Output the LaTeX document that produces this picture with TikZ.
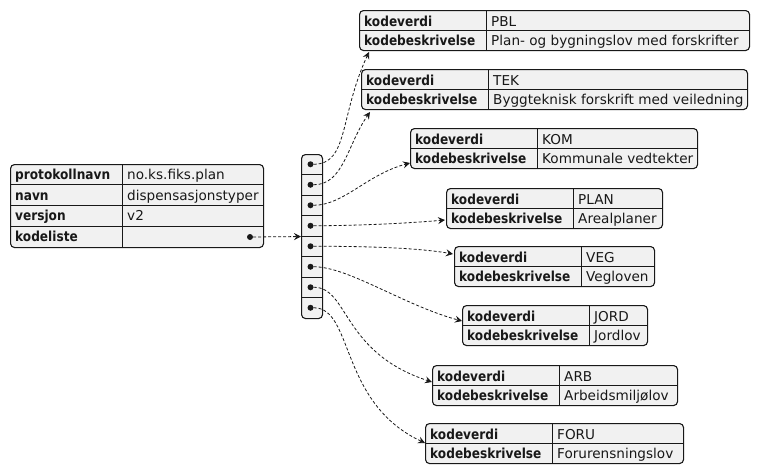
\documentclass[tikz,border=0pt]{standalone}
\usepackage{fontspec}
\setmainfont{DejaVu Sans}[BoldFeatures={FakeStretch=0.88}]
\usetikzlibrary{arrows.meta,calc}
\definecolor{tabfyll}{HTML}{F1F1F1}
\definecolor{strek}{HTML}{181818}
\tikzset{
  tabell/.style={draw=strek, fill=tabfyll, rounded corners=4pt, line width=1.1pt, inner sep=0pt, anchor=north west},
  skille/.style={draw=strek, line width=0.8pt},
  noekkel/.style={anchor=base west, inner sep=0pt, text=strek, font=\fontsize{13.8}{16}\selectfont\bfseries},
  verdi/.style={anchor=base west, inner sep=0pt, text=strek, font=\fontsize{13.6}{16}\selectfont},
  prikk/.style={circle, fill=strek, inner sep=0pt, minimum size=6pt},
  pil/.style={draw=strek, line width=0.8pt, dash pattern=on 3pt off 2pt, -{Stealth[length=7pt,width=7pt,inset=2.5pt]}}
}
\begin{document}
\begin{tikzpicture}[x=1pt,y=1pt]
\useasboundingbox (0,0) rectangle (760,-474);

% hovedtabellen
\node[tabell, minimum width=253, minimum height=83] (hoved) at (10,-164) {};
\foreach \i in {1,2,3}
  \draw[skille] ($(hoved.north west)+(0,-20.75*\i)$) -- ($(hoved.north east)+(0,-20.75*\i)$);
\draw[skille] ($(hoved.north west)+(112,0)$) -- ($(hoved.south west)+(112,0)$);
\foreach \i/\felt/\verdi in {1/protokollnavn/no.ks.fiks.plan, 2/navn/dispensasjonstyper, 3/versjon/v2, 4/kodeliste/}
{
  \node[noekkel] (hoved-k\i) at ($(hoved.north west)+(5,-20.75*\i+5.5)$) {\felt};
  \node[verdi] (hoved-v\i) at ($(hoved.north west)+(117,-20.75*\i+5.5)$) {\verdi};
}
\node[prikk] (liste-prikk) at (250,-237) {};

% kodelista
\node[tabell, minimum width=21, minimum height=164] (liste) at (301,-154) {};
\foreach \i in {1,...,7}
  \draw[skille] ($(liste.north west)+(0,-20.5*\i)$) -- ($(liste.north east)+(0,-20.5*\i)$);
\foreach \i in {1,...,8}
  \node[prikk] (d\i) at ($(liste.north west)+(9.5,-20.5*\i+10.25)$) {};
\draw[pil] (liste-prikk) -- (liste.west);

% kodene
\foreach \navn/\x/\y/\bredde/\kode/\tekst/\ix/\iy in {
    pbl/359/10/390/PBL/Plan- og bygningslov med forskrifter/10/42,
    tek/361/69/386/TEK/Byggteknisk forskrift med veiledning/9/43,
    kom/410/128/287/KOM/Kommunale vedtekter/0/35,
    plan/446/188/216/PLAN/Arealplaner/-1/32,
    veg/454/246/200/VEG/Vegloven/-1/8,
    jord/462/305/185/JORD/Jordlov/0/16,
    arb/432/365/245/ARB/Arbeidsmiljølov/0/17,
    foru/425/423/258/FORU/Forurensningslov/0/20}
{
  \node[tabell, minimum width=\bredde, minimum height=40] (\navn) at (\x,-\y) {};
  \draw[skille] (\navn.west) -- (\navn.east);
  \draw[skille] ($(\navn.north west)+(127,0)$) -- ($(\navn.south west)+(127,0)$);
  \node[noekkel] (\navn-k1) at ($(\navn.north west)+(5,-16)$) {kodeverdi};
  \node[verdi] (\navn-v1) at ($(\navn.north west)+(132,-16)$) {\kode};
  \node[noekkel] (\navn-k2) at ($(\navn.north west)+(5,-35.5)$) {kodebeskrivelse};
  \node[verdi] (\navn-v2) at ($(\navn.north west)+(132,-35.5)$) {\tekst};
  \coordinate (\navn-inn) at ($(\navn.north west)+(\ix,-\iy)$);
}

\foreach \fra/\til/\ut/\inn/\da/\db in {d1/pbl/0/245/35/70, d2/tek/0/235/30/40, d3/kom/0/195/30/45, d4/plan/0/185/40/40,
    d5/veg/0/170/40/40, d6/jord/0/165/35/60, d7/arb/0/162/35/95, d8/foru/0/155/40/95}
  \draw[pil] (\fra) to[out=\ut, in=\inn, out distance=\da, in distance=\db] (\til-inn);
\end{tikzpicture}
\end{document}
